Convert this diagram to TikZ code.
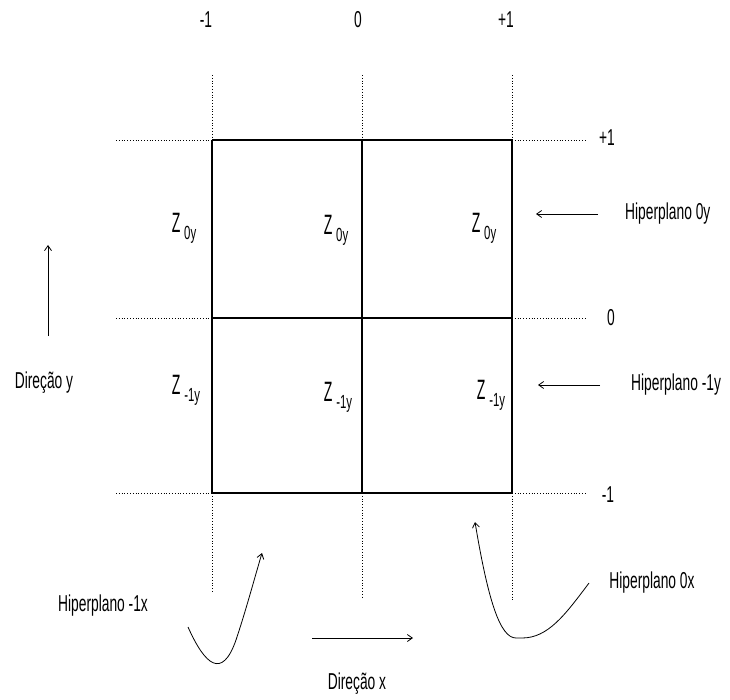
\documentclass[tikz,border=0pt]{standalone}
\usepackage{fontspec}
\setmainfont[FakeStretch=0.6]{Liberation Sans}
\newfontfamily\zfont[FakeStretch=0.5]{Liberation Sans}
\usetikzlibrary{arrows.meta}
\tikzset{
  lbl/.style={font=\fontsize{23}{26}\selectfont, inner sep=1pt},
  grid/.style={line width=1.3pt},
  dots/.style={dotted, line width=0.8pt},
  arr/.style={-{Straight Barb[length=5pt,width=7pt]}, line width=0.8pt},
}
\newcommand{\zlab}[1]{{\zfont\fontsize{28}{30}\selectfont Z}\,\raisebox{-0.6ex}{\fontsize{19}{21}\selectfont #1}}
\begin{document}
\begin{tikzpicture}[x=1pt,y=-1pt]
\useasboundingbox (0,0) rectangle (730,700);
% grid corners
\coordinate (a1) at (212,140); \coordinate (a2) at (362,140); \coordinate (a3) at (512,140);
\coordinate (b1) at (212,318); \coordinate (b2) at (362,318); \coordinate (b3) at (512,318);
\coordinate (c1) at (212,493); \coordinate (c2) at (362,493); \coordinate (c3) at (512,493);
% dotted extensions
\coordinate (t1) at (212,75); \coordinate (t2) at (362,75); \coordinate (t3) at (512,75);
\coordinate (d1) at (212,592); \coordinate (d2) at (362,598); \coordinate (d3) at (512,600);
\coordinate (l1) at (116,140); \coordinate (l2) at (116,318); \coordinate (l3) at (116,493);
\coordinate (r1) at (586,140); \coordinate (r2) at (586,318); \coordinate (r3) at (586,493);
\draw[dots] (t1)--(a1) (t2)--(a2) (t3)--(a3);
\draw[dots] (c1)--(d1) (c2)--(d2) (c3)--(d3);
\draw[dots] (l1)--(a1) (l2)--(b1) (l3)--(c1);
\draw[dots] (a3)--(r1) (b3)--(r2) (c3)--(r3);
\draw[grid] (a1)--(a3) (b1)--(b3) (c1)--(c3);
\draw[grid] (a1)--(c1) (a2)--(c2) (a3)--(c3);
% axis labels
\node[lbl] (xm) at (206,20) {-1};
\node[lbl] (x0) at (358,20) {0};
\node[lbl] (xp) at (506,20) {+1};
\node[lbl] (yp) at (607,138) {+1};
\node[lbl] (y0) at (611,318) {0};
\node[lbl] (ym) at (608,495) {-1};
% cell labels
\node[lbl] (z1) at (184,228) {\zlab{0y}};
\node[lbl] (z2) at (336,230) {\zlab{0y}};
\node[lbl] (z3) at (484,228) {\zlab{0y}};
\node[lbl] (w1) at (186,390) {\zlab{-1y}};
\node[lbl] (w2) at (338,397) {\zlab{-1y}};
\node[lbl] (w3) at (491,395) {\zlab{-1y}};
% right hyperplanes
\node[lbl, anchor=west] (h0y) at (624,214) {Hiperplano 0y};
\node[lbl, anchor=west] (h1y) at (630,385) {Hiperplano -1y};
\draw[arr] (h0y.west) ++(-26,0) -- ++(-62,0);
\draw[arr] (h1y.west) ++(-30,0) -- ++(-62,0);
% direction y
\node[lbl] (dy) at (44,383) {Direção y};
\coordinate (dys) at (48,336);
\coordinate (dye) at (48,245);
\draw[arr] (dys) -- (dye);
% direction x
\node[lbl] (dx) at (357,684) {Direção x};
\coordinate (dxs) at (312,638);
\coordinate (dxe) at (413,638);
\draw[arr] (dxs) -- (dxe);
% bottom hyperplanes
\node[lbl] (h1x) at (103,606) {Hiperplano -1x};
\coordinate (c1s) at (188,627);
\coordinate (c1e) at (262,553);
\draw[arr] (c1s) .. controls (205,665) and (222,680) .. (236,640) .. controls (246,610) and (254,580) .. (c1e);
\node[lbl] (h0x) at (652,583) {Hiperplano 0x};
\coordinate (c2s) at (589,583);
\coordinate (c2e) at (475,522);
\draw[arr] (c2s) .. controls (565,615) and (548,638) .. (522,638) -- (516,638) .. controls (500,638) and (488,600) .. (c2e);
\end{tikzpicture}
\end{document}
